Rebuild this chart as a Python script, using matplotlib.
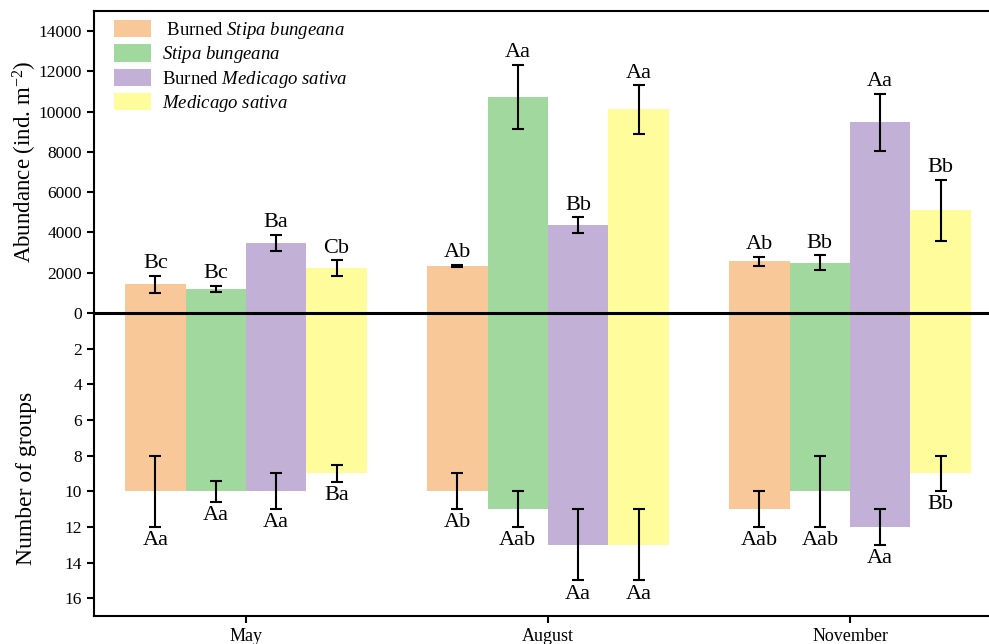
import matplotlib
matplotlib.use("Agg")
import matplotlib.pyplot as plt
import numpy as np

plt.rcParams['font.family'] = ['Liberation Serif', 'DejaVu Serif']
plt.rcParams['mathtext.fontset'] = 'custom'
plt.rcParams['mathtext.rm'] = 'Liberation Serif'
plt.rcParams['mathtext.it'] = 'Liberation Serif:italic'

months = ['May', 'August', 'November']
series_labels = [' Burned $\\mathit{Stipa\\ bungeana}$', '$\\mathit{Stipa\\ bungeana}$',
                 'Burned $\\mathit{Medicago\\ sativa}$', '$\\mathit{Medicago\\ sativa}$']
colors = ['#F9C899', '#A0D89D', '#C2B0D6', '#FFFC9C']

abund_bsb = [1430, 2340, 2570]
abund_sb = [1180, 10740, 2500]
abund_bms = [3480, 4370, 9470]
abund_ms = [2220, 10110, 5110]
abund_err_bsb = [420, 60, 220]
abund_err_sb = [160, 1590, 360]
abund_err_bms = [400, 380, 1400]
abund_err_ms = [390, 1200, 1510]

groups_bsb = [10, 10, 11]
groups_sb = [10, 11, 10]
groups_bms = [10, 13, 12]
groups_ms = [9, 13, 9]
groups_err_bsb = [2, 1, 1]
groups_err_sb = [0.6, 1, 2]
groups_err_bms = [1, 2, 1]
groups_err_ms = [0.5, 2, 1]

abund_letters_bsb = ['Bc', 'Ab', 'Ab']
abund_letters_sb = ['Bc', 'Aa', 'Bb']
abund_letters_bms = ['Ba', 'Bb', 'Aa']
abund_letters_ms = ['Cb', 'Aa', 'Bb']
groups_letters_bsb = ['Aa', 'Ab', 'Aab']
groups_letters_sb = ['Aa', 'Aab', 'Aab']
groups_letters_bms = ['Aa', 'Aa', 'Aa']
groups_letters_ms = ['Ba', 'Aa', 'Bb']

abund = [abund_bsb, abund_sb, abund_bms, abund_ms]
abund_err = [abund_err_bsb, abund_err_sb, abund_err_bms, abund_err_ms]
groups = [groups_bsb, groups_sb, groups_bms, groups_ms]
groups_err = [groups_err_bsb, groups_err_sb, groups_err_bms, groups_err_ms]
abund_letters = [abund_letters_bsb, abund_letters_sb, abund_letters_bms, abund_letters_ms]
groups_letters = [groups_letters_bsb, groups_letters_sb, groups_letters_bms, groups_letters_ms]

W, H = 989, 644
fig = plt.figure(figsize=(W / 100, H / 100), dpi=100)
L, R = 94, 1002
ax_t = fig.add_axes([L / W, (H - 313) / H, (R - L) / W, (313 - 11) / H])
ax_b = fig.add_axes([L / W, (H - 616) / H, (R - L) / W, (616 - 313) / H], sharex=ax_t)
ax_b.patch.set_visible(False)

x = np.arange(len(months))
width = 0.2
offsets = [-0.3, -0.1, 0.1, 0.3]
lab_fs = 16

for i in range(4):
    xs = x + offsets[i]
    ax_t.bar(xs, abund[i], width, color=colors[i], label=series_labels[i], zorder=1)
    ax_t.errorbar(xs, abund[i], yerr=abund_err[i], fmt='none', ecolor='black',
                  elinewidth=1.5, capsize=4, capthick=1.5, zorder=3)
    for xx, v, e, t in zip(xs, abund[i], abund_err[i], abund_letters[i]):
        ax_t.annotate(t, (xx, v + e), xytext=(0, 2), textcoords='offset points',
                      ha='center', va='bottom', fontsize=lab_fs)
    ax_b.bar(xs, groups[i], width, color=colors[i], zorder=1)
    ax_b.errorbar(xs, groups[i], yerr=groups_err[i], fmt='none', ecolor='black',
                  elinewidth=1.5, capsize=4, capthick=1.5, zorder=3)
    for xx, v, e, t in zip(xs, groups[i], groups_err[i], groups_letters[i]):
        ax_b.annotate(t, (xx, v + e), xytext=(0, -3), textcoords='offset points',
                      ha='center', va='top', fontsize=lab_fs)

ax_t.set_xlim(-0.503, 2.503)
ax_t.set_ylim(0, 15000)
ax_b.set_ylim(17, 0)

ax_t.set_yticks(np.arange(0, 14001, 2000))
ax_b.set_yticks(np.arange(2, 17, 2))
ax_b.set_xticks(x)
ax_b.set_xticklabels(months)

for ax in (ax_t, ax_b):
    for s in ax.spines.values():
        s.set_linewidth(1.5)
    ax.spines['right'].set_visible(False)
    ax.tick_params(axis='y', direction='out', length=5, width=1.5, labelsize=12.5)
ax_t.spines['bottom'].set_visible(False)
ax_b.spines['top'].set_visible(False)
ax_t.tick_params(axis='x', bottom=False, labelbottom=False)
ax_b.tick_params(axis='x', direction='out', length=5, width=1.5, labelsize=13)
ax_b.axhline(0, color='black', lw=2.2, zorder=5, clip_on=False)

fig.text(25 / W, 1 - 162 / H, 'Abundance (ind. m$^{-2}$)', rotation=90,
         ha='center', va='center', fontsize=16.5)
fig.text(27 / W, 1 - 478 / H, 'Number of groups', rotation=90,
         ha='center', va='center', fontsize=17)

leg = ax_t.legend(loc='upper left', bbox_to_anchor=(0.022, 0.97), frameon=False,
                  fontsize=13.5, handlelength=2.0, handleheight=1.05,
                  handletextpad=0.55, labelspacing=0.17, borderpad=0, borderaxespad=0)

fig.savefig('out.png', dpi=100)
